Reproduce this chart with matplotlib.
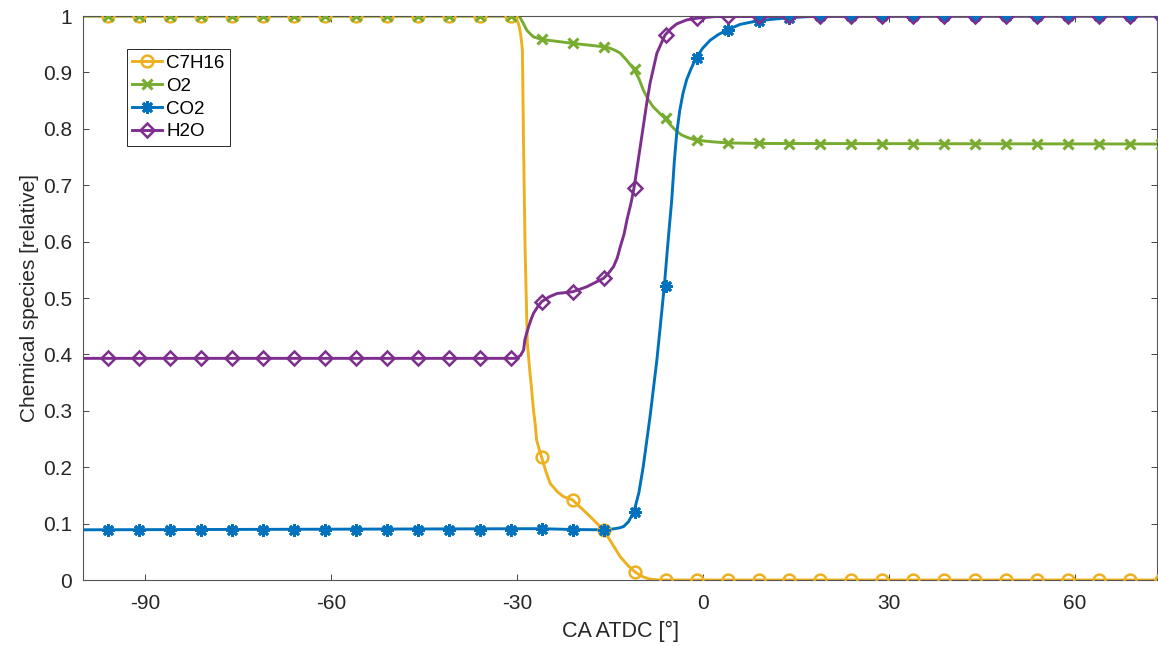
import numpy as np
import matplotlib
matplotlib.use("Agg")
import matplotlib.pyplot as plt

plt.rcParams['font.family'] = ['Liberation Sans', 'DejaVu Sans']

# ---------------- data ----------------
series_names = ["C7H16", "O2", "CO2", "H2O"]

# marker positions (crank angle, deg ATDC)
marker_x = [-96, -91, -86, -81, -76, -71, -66, -61, -56, -51, -46, -41, -36, -31,
            -26, -21, -16, -11, -6, -1, 4, 9, 14, 19, 24, 29, 34, 39, 44, 49,
            54, 59, 64, 69, 74]

c7h16_marker_y = [1.0] * 14 + [0.218, 0.142, 0.089, 0.015] + [0.0] * 17
o2_marker_y = [1.0] * 14 + [0.9585, 0.9515, 0.9455, 0.9055, 0.8186, 0.780,
                            0.775, 0.774] + [0.773] * 13
co2_marker_y = [0.089] * 14 + [0.091, 0.0895, 0.089, 0.121, 0.521, 0.926,
                               0.975, 0.992, 0.997] + [1.0] * 12
h2o_marker_y = [0.393] * 14 + [0.4935, 0.511, 0.535, 0.6945, 0.966,
                               0.996] + [1.0] * 15

# line traces
c7h16_x = [-100, -30.6, -30.2, -30.0, -29.8, -29.6, -29.35, -29.1, -28.9, -28.66,
           -28.3, -27.9, -27.6, -27.3, -27.05, -26.8, -26.4, -26.0, -25.3, -24.6,
           -23.5, -22.5, -21.0, -18.5, -16.0, -13.3, -12.0, -11.0, -10.2, -9.5,
           -8.7, -8.0, -7.0, 75]
c7h16_y = [1.0, 1.0, 0.998, 0.993, 0.988, 0.981, 0.965, 0.94, 0.762, 0.585,
           0.42, 0.37, 0.337, 0.3, 0.278, 0.248, 0.232, 0.218, 0.192, 0.171,
           0.157, 0.148, 0.142, 0.116, 0.089, 0.041, 0.025, 0.015, 0.009, 0.005,
           0.002, 0.001, 0.0, 0.0]

o2_x = [-100, -30.0, -29.5, -29.0, -28.4, -27.8, -27.3, -26.0, -21.0, -16.0,
        -15.0, -14.1, -13.3, -12.3, -11.1, -10.3, -9.6, -8.8, -8.0, -7.0, -6.1,
        -5.3, -4.7, -4.0, -3.4, -2.3, -1.1, 1.5, 3.9, 9, 75]
o2_y = [1.0, 1.0, 0.998, 0.988, 0.975, 0.968, 0.963, 0.9585, 0.9515, 0.9455,
        0.943, 0.939, 0.934, 0.922, 0.9055, 0.889, 0.869, 0.852, 0.839, 0.828,
        0.8186, 0.808, 0.801, 0.794, 0.789, 0.784, 0.780, 0.777, 0.775, 0.774,
        0.773]

co2_x = [-100, -26, -21, -16, -14.5, -13.6, -12.8, -12.0, -11.1, -10.3, -9.6,
         -8.5, -7.4, -6.2, -5.6, -5.0, -4.6, -4.2, -3.7, -3.2, -2.6, -1.9, -1.1,
         0.0, 1.2, 2.5, 3.9, 6.0, 8.9, 13.9, 19, 75]
co2_y = [0.089, 0.091, 0.0895, 0.089, 0.0905, 0.092, 0.0946, 0.103, 0.121, 0.155,
         0.201, 0.29, 0.39, 0.521, 0.60, 0.674, 0.74, 0.792, 0.833, 0.862, 0.887,
         0.906, 0.925, 0.943, 0.957, 0.967, 0.975, 0.985, 0.9917, 0.997, 1.0, 1.0]

h2o_x = [-100, -30.0, -29.35, -28.9, -28.7, -28.4, -28.1, -27.7, -27.3, -26.6,
         -26.0, -24.8, -23.5, -21.0, -18.7, -16.0, -15.2, -14.4, -13.8, -13.3,
         -12.7, -12.2, -11.6, -11.1, -10.4, -9.6, -9.0, -8.5, -7.4, -6.1, -5.1,
         -4.2, -2.6, -1.0, 2, 75]
h2o_y = [0.393, 0.393, 0.399, 0.408, 0.426, 0.438, 0.449, 0.462, 0.473, 0.485,
         0.4935, 0.502, 0.508, 0.511, 0.520, 0.535, 0.544, 0.5555, 0.571, 0.591,
         0.613, 0.64, 0.667, 0.6945, 0.745, 0.804, 0.848, 0.881, 0.934, 0.966,
         0.978, 0.986, 0.993, 0.996, 0.999, 1.0]

x_ticks = [-90, -60, -30, 0, 30, 60]
x_tick_labels = ["-90", "-60", "-30", "0", "30", "60"]
y_ticks = [0, 0.1, 0.2, 0.3, 0.4, 0.5, 0.6, 0.7, 0.8, 0.9, 1.0]
y_tick_labels = ["0", "0.1", "0.2", "0.3", "0.4", "0.5", "0.6", "0.7", "0.8",
                 "0.9", "1"]

# ---------------- styling ----------------
colors = {"C7H16": "#EDB120", "O2": "#77AC30", "CO2": "#0072BD", "H2O": "#7E2F8E"}
markers = {
    "C7H16": dict(marker="o", markersize=8.5, markeredgewidth=1.8, markerfacecolor="none"),
    "O2": dict(marker="x", markersize=6.5, markeredgewidth=2.2),
    "CO2": dict(marker=(8, 2, 0), markersize=9, markeredgewidth=2.0),
    "H2O": dict(marker="D", markersize=7.5, markeredgewidth=1.8, markerfacecolor="none"),
}
lines = {"C7H16": (c7h16_x, c7h16_y, c7h16_marker_y),
         "O2": (o2_x, o2_y, o2_marker_y),
         "CO2": (co2_x, co2_y, co2_marker_y),
         "H2O": (h2o_x, h2o_y, h2o_marker_y)}

fig = plt.figure(figsize=(11.58, 6.46), dpi=100)
ax = fig.add_axes([83 / 1158, 66 / 646, 1074 / 1158, 564 / 646])

axis_col = "#262626"
lw = 2.1
for name in series_names:
    lx, ly, my = lines[name]
    c = colors[name]
    ax.plot(lx, ly, color=c, linewidth=lw, zorder=2, solid_joinstyle="round")
    ax.plot(marker_x, my, linestyle="none", color=c, zorder=3, **markers[name])
    # legend proxy
    ax.plot([], [], color=c, linewidth=lw, label=name, **markers[name])

ax.set_xlim(-100, 73.3)
ax.set_ylim(0, 1)
ax.set_xticks(x_ticks)
ax.set_xticklabels(x_tick_labels)
ax.set_yticks(y_ticks)
ax.set_yticklabels(y_tick_labels)

ax.tick_params(axis="both", direction="in", length=4.5, width=0.6,
               colors=axis_col, labelsize=15, top=True, right=True)
ax.tick_params(axis="x", pad=10)
ax.tick_params(axis="y", pad=8)
for sp in ax.spines.values():
    sp.set_color("#555555")
    sp.set_linewidth(0.8)

ax.set_xlabel("CA ATDC [°]", fontsize=15.5, color=axis_col, labelpad=6)
ax.set_ylabel("Chemical species [relative]", fontsize=15, color=axis_col, labelpad=3)

leg = ax.legend(loc="upper left", bbox_to_anchor=(0.0407, 0.941), borderaxespad=0,
                fontsize=13.5, frameon=True, fancybox=False, framealpha=1,
                edgecolor=axis_col, labelspacing=0.3, handlelength=1.6,
                handletextpad=0.2, borderpad=0.3)
leg.get_frame().set_linewidth(0.7)

fig.savefig("out.png", dpi=100)
